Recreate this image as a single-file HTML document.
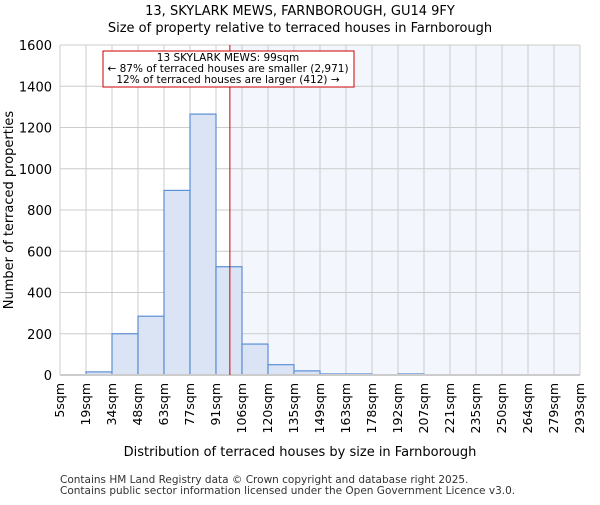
<!DOCTYPE html>
<html><head><meta charset="utf-8"><style>body{margin:0;background:#fff}svg{font-family:"DejaVu Sans","Liberation Sans",sans-serif}</style></head>
<body>
<svg id="c" width="600" height="500"></svg>
<script>
const binLabels=["5sqm","19sqm","34sqm","48sqm","63sqm","77sqm","91sqm","106sqm","120sqm","135sqm","149sqm","163sqm","178sqm","192sqm","207sqm","221sqm","235sqm","250sqm","264sqm","279sqm","293sqm"];
const counts=[0,15,200,285,895,1265,525,150,50,20,5,5,0,5,0,0,0,0,0,0];
const yTicks=[0,200,400,600,800,1000,1200,1400,1600];
const markerValue=99;
const NS="http://www.w3.org/2000/svg";
const svg=document.getElementById('c');
const L=60,R=580,T=45,B=375,yMax=1600,n=counts.length,bw=(R-L)/n;
const edges=binLabels.map(s=>parseFloat(s));
function y(v){return B-(v/yMax)*(B-T);}
function xi(i){return L+i*bw;}
function xv(v){for(let i=0;i<edges.length-1;i++){if(v<=edges[i+1])return xi(i)+bw*(v-edges[i])/(edges[i+1]-edges[i]);}return R;}
function mk(t,a,txt){const e=document.createElementNS(NS,t);for(const k in a)e.setAttribute(k,a[k]);if(txt!=null)e.textContent=txt;svg.appendChild(e);return e;}
const mx=xv(markerValue);
let e=mk('rect',{x:mx,y:T,width:R-mx,height:B-T,fill:'#f3f6fd'});


for(let i=0;i<=n;i++){e=mk('line',{x1:xi(i),x2:xi(i),y1:T,y2:B,stroke:'#cccccc'});

}
yTicks.forEach(v=>{e=mk('line',{x1:L,x2:R,y1:y(v),y2:y(v),stroke:'#cccccc'});


e=mk('text',{x:L-8,y:y(v)+5,'text-anchor':'end','font-size':13,fill:'#000'},String(v));

});
counts.forEach((c,i)=>{if(c<=0)return;e=mk('rect',{x:xi(i),y:y(c),width:bw,height:B-y(c),fill:'#dae4f4',stroke:'#5b8fd6','stroke-width':1.2});

});
e=mk('line',{x1:L,x2:R,y1:B,y2:B,stroke:'#cccccc','stroke-width':2});


binLabels.forEach((s,i)=>{const x=xi(i)+4;e=mk('text',{x:x,y:B+8,'font-size':12.5,'text-anchor':'end',transform:`rotate(-90 ${x} ${B+8})`},s);

});
e=mk('line',{x1:mx,x2:mx,y1:T,y2:B,stroke:'#cc0000','stroke-width':1});


e=mk('rect',{x:103,y:51,width:251,height:36,fill:'#fff',stroke:'#cc0000'});


[["13 SKYLARK MEWS: 99sqm",61],["← 87% of terraced houses are smaller (2,971)",72],["12% of terraced houses are larger (412) →",83]].forEach(a=>{e=mk('text',{x:228,y:a[1],'text-anchor':'middle','font-size':10.5},a[0]);

});
e=mk('text',{x:300,y:15,'text-anchor':'middle','font-size':13},"13, SKYLARK MEWS, FARNBOROUGH, GU14 9FY");


e=mk('text',{x:300,y:32,'text-anchor':'middle','font-size':13},"Size of property relative to terraced houses in Farnborough");


e=mk('text',{x:300,y:456,'text-anchor':'middle','font-size':13},"Distribution of terraced houses by size in Farnborough");


e=mk('text',{x:13,y:210,'text-anchor':'middle','font-size':13,transform:'rotate(-90 13 210)'},"Number of terraced properties");


e=mk('text',{x:60,y:483,'font-size':10.5,fill:'#333'},"Contains HM Land Registry data © Crown copyright and database right 2025.");


e=mk('text',{x:60,y:494,'font-size':10.5,fill:'#333'},"Contains public sector information licensed under the Open Government Licence v3.0.");


</script>
</body></html>
